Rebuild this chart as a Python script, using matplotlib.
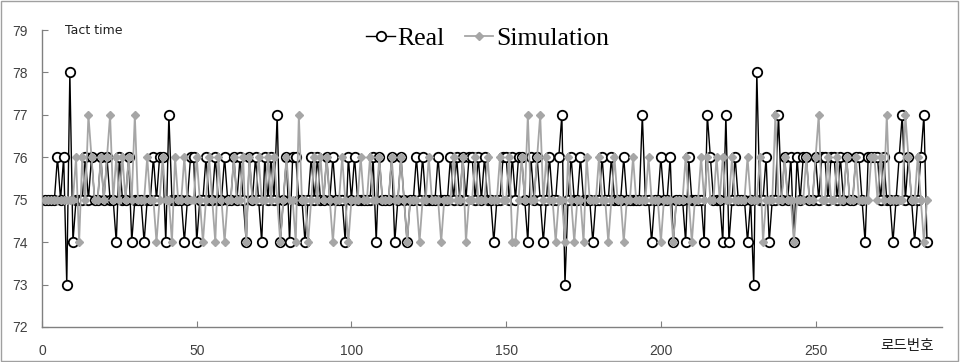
import matplotlib
matplotlib.use("Agg")
import matplotlib.pyplot as plt
from matplotlib.patches import Rectangle

real = [
    75,75,75,75,76,75,76,73,78,74,
    75,75,75,76,75,76,75,75,76,75,
    76,75,75,74,76,75,75,76,74,75,
    75,75,74,75,75,76,75,76,76,74,
    77,75,75,75,75,74,75,76,76,74,
    75,75,76,75,75,76,75,75,76,75,
    75,76,75,76,75,74,76,75,76,75,
    74,76,75,76,75,77,74,75,76,74,
    76,76,75,75,74,75,76,75,76,75,
    75,76,75,76,75,75,75,74,76,75,
    76,75,75,75,75,75,76,74,76,75,
    75,75,76,74,75,76,75,74,75,75,
    76,75,76,75,75,75,75,76,75,75,
    75,76,75,76,75,76,75,76,76,75,
    76,75,76,75,75,74,75,75,76,76,
    75,76,75,76,76,75,74,76,75,76,
    75,74,75,76,75,75,76,77,73,75,
    76,75,75,76,75,75,75,74,75,75,
    76,75,75,76,75,75,75,76,75,75,
    75,75,75,77,75,75,74,75,75,76,
    75,75,76,74,75,75,75,74,76,75,
    75,75,75,74,77,76,75,75,75,74,
    77,74,75,76,75,75,75,74,75,73,
    78,75,75,76,74,75,75,77,75,76,
    75,76,74,76,75,76,76,75,75,76,
    75,76,76,75,76,76,75,76,75,76,
    75,75,76,76,75,74,76,76,76,76,
    75,76,75,75,74,75,76,77,75,76,
    75,74,75,76,77,74,
]

simulation = [
    75,75,75,75,75,75,75,75,75,75,
    76,74,76,75,77,76,75,75,76,75,
    76,77,75,76,75,76,75,76,75,77,
    75,75,75,76,75,75,74,75,76,75,
    75,74,76,75,75,76,75,75,75,76,
    75,74,75,76,75,74,76,75,74,75,
    75,76,75,75,76,74,76,75,75,76,
    75,75,76,75,76,75,74,75,76,75,
    75,74,77,75,75,74,75,76,75,76,
    75,76,75,74,75,75,76,75,74,75,
    75,75,76,75,75,76,75,75,76,75,
    75,75,76,75,75,76,75,74,75,75,
    75,74,75,75,76,75,75,75,74,75,
    75,75,76,75,75,76,74,75,75,76,
    75,75,75,76,75,75,75,76,75,75,
    76,74,74,75,76,75,77,75,75,76,
    77,75,76,75,75,74,75,75,74,76,
    75,74,75,75,74,76,75,75,75,76,
    75,75,74,75,76,75,75,74,75,75,
    76,75,75,75,75,76,75,75,75,74,
    75,75,75,74,75,75,75,76,75,74,
    75,75,76,75,76,75,75,76,75,76,
    75,75,76,75,75,75,75,76,75,75,
    75,76,74,75,75,75,77,75,75,76,
    75,75,74,75,75,75,76,75,75,76,
    77,75,75,76,75,75,76,75,75,76,
    75,75,76,75,75,75,75,76,76,75,
    76,75,77,75,75,75,75,75,77,76,
    75,75,76,75,74,75,
]

load_no = list(range(1, len(real) + 1))
x_ticks = [0, 50, 100, 150, 200, 250]
y_ticks = [72, 73, 74, 75, 76, 77, 78, 79]

fig = plt.figure(figsize=(9.6, 3.62), dpi=100)
ax = fig.add_axes([0.04375, 0.0967, 0.938, 0.8203])

ax.plot(load_no, real, color="black", lw=1.0, marker="o", ms=6.8,
        mfc="white", mec="black", mew=1.3, label="Real", zorder=2)
ax.plot(load_no, simulation, color="#a6a6a6", lw=1.3, marker="D", ms=4.2,
        mfc="#a6a6a6", mec="#a6a6a6", label="Simulation", zorder=3)

ax.set_xlim(0, 291)
ax.set_ylim(72, 79)
ax.set_xticks(x_ticks)
ax.set_yticks(y_ticks)
for s in ["top", "right"]:
    ax.spines[s].set_visible(False)
for s in ["left", "bottom"]:
    ax.spines[s].set_color("#808080")
    ax.spines[s].set_linewidth(1.0)
ax.tick_params(axis="both", direction="in", length=4, color="#808080",
               labelcolor="#404040", labelsize=10)
for lbl in ax.get_xticklabels() + ax.get_yticklabels():
    lbl.set_family("Liberation Sans")
ax.tick_params(axis="x", pad=12)
ax.tick_params(axis="y", pad=10)

fig.text(0.068, 0.917, "Tact time", fontsize=9, color="#202020",
         va="center", ha="left", family="DejaVu Sans")
fig.text(0.973, 0.045, "로드번호", fontsize=10.5, color="#202020",
         va="center", ha="right", family=["Noto Sans CJK KR", "DejaVu Sans"])

leg = fig.legend(loc="center", bbox_to_anchor=(0.508, 0.893), ncol=2,
                 frameon=False, handlelength=1.1, handletextpad=0.1,
                 columnspacing=0.8, prop={"family": "Liberation Serif", "size": 18.5})

fig.add_artist(Rectangle((0.001, 0.002), 0.997, 0.995, transform=fig.transFigure,
                         fill=False, edgecolor="#a0a0a0", lw=1.0))

fig.savefig("out.png", dpi=100)
